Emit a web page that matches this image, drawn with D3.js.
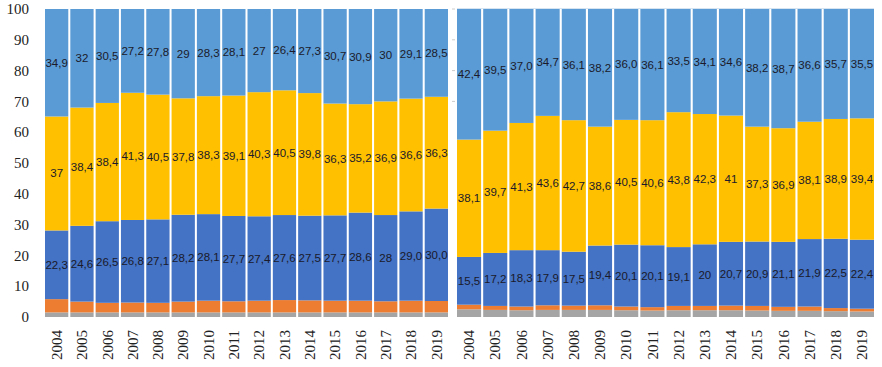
<!DOCTYPE html>
<html>
<head>
<meta charset="utf-8">
<script src="https://cdn.jsdelivr.net/npm/d3@7"></script>
<style>
  body { margin: 0; background: #fff; }
  svg { display: block; }
</style>
</head>
<body>
<svg id="chart" width="882" height="367"></svg>
<script>
(function () {
  // Data (labels as printed, comma decimals).
  let years = ["2004", "2005", "2006", "2007", "2008", "2009", "2010", "2011",
    "2012", "2013", "2014", "2015", "2016", "2017", "2018", "2019"];
  let yTicks = [0, 10, 20, 30, 40, 50, 60, 70, 80, 90, 100];

  // Left panel
  let leftGray = [1.5, 1.5, 1.5, 1.5, 1.5, 1.5, 1.5, 1.5, 1.5, 1.5, 1.5, 1.5, 1.5, 1.5, 1.5, 1.5];
  let leftOrange = [4.3, 3.5, 3.1, 3.2, 3.1, 3.5, 3.8, 3.6, 3.8, 4.0, 3.9, 3.8, 3.8, 3.6, 3.8, 3.7];
  let leftBlue = ["22,3", "24,6", "26,5", "26,8", "27,1", "28,2", "28,1", "27,7",
    "27,4", "27,6", "27,5", "27,7", "28,6", "28", "29,0", "30,0"];
  let leftYellow = ["37", "38,4", "38,4", "41,3", "40,5", "37,8", "38,3", "39,1",
    "40,3", "40,5", "39,8", "36,3", "35,2", "36,9", "36,6", "36,3"];
  let leftLight = ["34,9", "32", "30,5", "27,2", "27,8", "29", "28,3", "28,1",
    "27", "26,4", "27,3", "30,7", "30,9", "30", "29,1", "28,5"];

  // Right panel
  let rightGray = [2.5, 2.3, 2.2, 2.3, 2.3, 2.3, 2.2, 2.1, 2.2, 2.2, 2.2, 2.1, 2.0, 2.0, 1.9, 1.8];
  let rightOrange = [1.5, 1.3, 1.2, 1.5, 1.4, 1.5, 1.2, 1.1, 1.4, 1.4, 1.5, 1.5, 1.3, 1.4, 1.0, 0.9];
  let rightBlue = ["15,5", "17,2", "18,3", "17,9", "17,5", "19,4", "20,1", "20,1",
    "19,1", "20", "20,7", "20,9", "21,1", "21,9", "22,5", "22,4"];
  let rightYellow = ["38,1", "39,7", "41,3", "43,6", "42,7", "38,6", "40,5", "40,6",
    "43,8", "42,3", "41", "37,3", "36,9", "38,1", "38,9", "39,4"];
  let rightLight = ["42,4", "39,5", "37,0", "34,7", "36,1", "38,2", "36,0", "36,1",
    "33,5", "34,1", "34,6", "38,2", "38,7", "36,6", "35,7", "35,5"];

  let keys = ["gray", "orange", "blue", "yellow", "light"];
  let colors = {
    gray: "#a5a5a5",
    orange: "#ed7d31",
    blue: "#4472c4",
    yellow: "#ffc000",
    light: "#5b9bd5",
  };
  let labelled = ["blue", "yellow", "light"];

  let num = (s) => (typeof s === "number" ? s : +s.replace(",", "."));

  function buildRows(gray, orange, blue, yellow, light) {
    return years.map((yr, i) => ({
      year: yr,
      gray: gray[i],
      orange: orange[i],
      blue: num(blue[i]),
      yellow: num(yellow[i]),
      light: num(light[i]),
      text: { blue: blue[i], yellow: yellow[i], light: light[i] },
    }));
  }

  let svg = d3.select("#chart");
  let y = d3.scaleLinear().domain([0, 100]).range([317, 9]);

  // Y axis tick labels (left only)
  svg.append("g")
    .selectAll("text")
    .data(yTicks)
    .enter()
    .append("text")
    .attr("x", 29)
    .attr("y", (d) => y(d))
    .attr("dy", "0.35em")
    .attr("text-anchor", "end")
    .attr("font-family", "Liberation Serif, Times New Roman, serif")
    .attr("font-size", "15px")
    .attr("fill", "#222")
    .text((d) => d);

  function panel(rows, x0, x1, hiddenAxis) {
    let x = d3.scaleBand().domain(years).range([x0, x1]).paddingInner(0.08);
    let series = d3.stack().keys(keys).value((d, k) => d[k])(rows);
    let g = svg.append("g");

    if (hiddenAxis) {
      // faint axis ticks and frame top as in the picture
      g.append("g")
        .selectAll("line")
        .data(yTicks.filter((t) => t >= 70))
        .enter()
        .append("line")
        .attr("x1", x0 - 5)
        .attr("x2", x0 - 2)
        .attr("y1", (d) => y(d))
        .attr("y2", (d) => y(d))
        .attr("stroke", "#ccc");
      g.append("line")
        .attr("x1", x0)
        .attr("x2", x1)
        .attr("y1", y(100) - 0.5)
        .attr("y2", y(100) - 0.5)
        .attr("stroke", "#d6e4f2");
    }

    g.selectAll(".layer")
      .data(series)
      .enter()
      .append("g")
      .attr("fill", (d) => colors[d.key])
      .selectAll("rect")
      .data((d) => d)
      .enter()
      .append("rect")
      .attr("x", (d) => x(d.data.year))
      .attr("width", x.bandwidth())
      .attr("y", (d) => y(d[1]))
      .attr("height", (d) => y(d[0]) - y(d[1]));

    series
      .filter((s) => labelled.includes(s.key))
      .forEach((s) => {
        g.append("g")
          .selectAll("text")
          .data(s)
          .enter()
          .append("text")
          .attr("x", (d) => x(d.data.year) + x.bandwidth() / 2)
          .attr("y", (d) => y((d[0] + d[1]) / 2))
          .attr("dy", "0.35em")
          .attr("text-anchor", "middle")
          .attr("font-family", "Liberation Sans, Arial, sans-serif")
          .attr("font-size", "11.5px")
          .attr("fill", "#1a1a2a")
          .text((d) => d.data.text[s.key]);
      });

    // rotated year labels
    g.append("g")
      .selectAll("text")
      .data(years)
      .enter()
      .append("text")
      .attr("transform", (d) => `translate(${x(d) + x.bandwidth() / 2},330) rotate(-90)`)
      .attr("dy", "0.35em")
      .attr("text-anchor", "end")
      .attr("font-family", "Liberation Serif, Times New Roman, serif")
      .attr("font-size", "15px")
      .attr("fill", "#222")
      .text((d) => d);
  }

  panel(buildRows(leftGray, leftOrange, leftBlue, leftYellow, leftLight), 45, 448, false);
  panel(buildRows(rightGray, rightOrange, rightBlue, rightYellow, rightLight), 457, 874, true);
})();
</script>
</body>
</html>
